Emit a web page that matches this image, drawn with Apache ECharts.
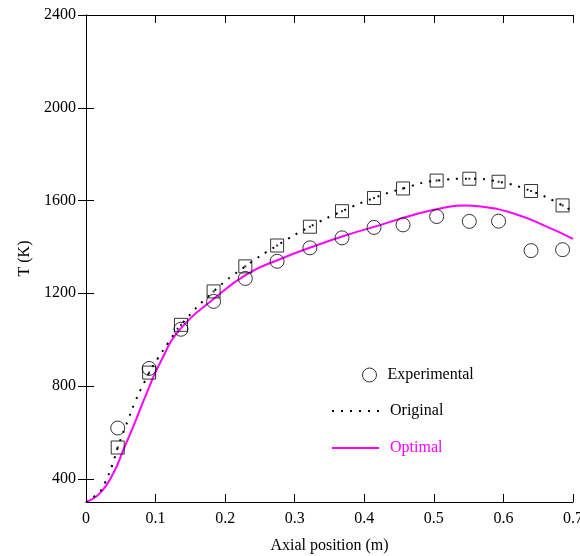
<!DOCTYPE html>
<html>
<head>
<meta charset="utf-8">
<script src="https://cdn.jsdelivr.net/npm/echarts@6/dist/echarts.min.js"></script>
<style>
  html, body { margin: 0; padding: 0; background: #fff; }
  #chart { width: 580px; height: 556px; }
</style>
</head>
<body>
<div id="chart"></div>
<script>
// 数据
const expX = [0.0456, 0.0908, 0.1365, 0.1834, 0.229, 0.2747, 0.3218, 0.368, 0.414, 0.4557, 0.504, 0.551, 0.593, 0.6397, 0.685];
const expT = [619, 876, 1045, 1165, 1264, 1338, 1396, 1439, 1484, 1495, 1531, 1510, 1511, 1384, 1388];

const origPtT = [535, 858, 1064, 1208, 1316, 1406, 1487, 1554, 1611, 1652, 1686, 1694, 1681, 1641, 1579];

const origLineX = [0, 0.02, 0.027, 0.038, 0.0456, 0.061, 0.071, 0.083, 0.0908, 0.103, 0.119, 0.1365, 0.1834, 0.229, 0.2747, 0.3218, 0.368, 0.414, 0.4557, 0.504, 0.551, 0.593, 0.6397, 0.685, 0.7];
const origLineT = [300, 345, 381, 461, 535, 658, 735, 811, 858, 918, 990, 1064, 1208, 1316, 1406, 1487, 1554, 1611, 1652, 1686, 1694, 1681, 1641, 1579, 1550];

const optX = [0, 0.0202, 0.0394, 0.0538, 0.068, 0.0874, 0.1066, 0.1354, 0.1834, 0.2315, 0.2795, 0.3275, 0.3756, 0.4236, 0.4716, 0.5197, 0.5437, 0.5677, 0.6157, 0.6638, 0.7];
const optT = [300, 338, 425, 526, 626, 771, 901, 1045, 1175, 1283, 1348, 1403, 1452, 1495, 1539, 1572, 1579, 1574, 1543, 1485, 1435];

const yTicks = [400, 800, 1200, 1600, 2000, 2400];

const zip = (xs, ys) => xs.map((x, i) => [x, ys[i]]);

const font = 'Liberation Serif';
const chart = echarts.init(document.getElementById('chart'));

const xBase = {
    type: 'value', min: 0, max: 0.7, interval: 0.1,
    axisLine: { show: true, lineStyle: { color: '#000', width: 1 } },
    axisTick: { show: true, inside: true, length: 8, lineStyle: { color: '#000' } },
    splitLine: { show: false }
};
const yBase = {
    type: 'value', min: 300, max: 2400,
    axisLine: { show: true, lineStyle: { color: '#000', width: 1 } },
    axisTick: { show: true, inside: true, length: 8, customValues: yTicks, lineStyle: { color: '#000' } },
    splitLine: { show: false }
};

const legendText = { fontFamily: font, fontSize: 16, color: '#000', padding: [0, 0, 0, 6] };

chart.setOption({
    animation: false,
    grid: { left: 86, right: 7, top: 15, bottom: 54, outerBoundsMode: 'none' },
    xAxis: [
        Object.assign({}, xBase, {
            position: 'bottom',
            name: 'Axial position (m)', nameLocation: 'middle', nameGap: 36,
            nameTextStyle: { fontFamily: font, fontSize: 16, color: '#000' },
            axisLabel: {
                fontFamily: font, fontSize: 16, color: '#000', margin: 9,
                formatter: v => String(Math.round(v * 10) / 10)
            }
        }),
        Object.assign({}, xBase, { position: 'top', axisLabel: { show: false } })
    ],
    yAxis: [
        Object.assign({}, yBase, {
            position: 'left',
            name: 'T (K)', nameLocation: 'middle', nameGap: 53,
            nameTextStyle: { fontFamily: font, fontSize: 16, color: '#000' },
            axisLabel: {
                fontFamily: font, fontSize: 16, color: '#000', margin: 10,
                customValues: yTicks, formatter: v => String(v)
            }
        }),
        Object.assign({}, yBase, { position: 'right', axisLabel: { show: false } })
    ],
    legend: [
        {
            orient: 'vertical', left: 357, top: 362,
            itemWidth: 14, itemHeight: 14,
            textStyle: legendText,
            data: [{ name: 'Experimental', itemStyle: { borderWidth: 1 } }]
        },
        {
            orient: 'vertical', left: 326, top: 398, itemGap: 21,
            itemWidth: 47, itemHeight: 16,
            textStyle: legendText,
            data: [
                { name: 'Original', itemStyle: { opacity: 0 } },
                { name: 'Optimal', itemStyle: { opacity: 0 }, textStyle: { color: '#ff00ff' } }
            ]
        }
    ],
    series: [
        {
            name: 'Optimal', type: 'line', smooth: true, symbol: 'none',
            data: zip(optX, optT),
            lineStyle: { color: '#ff00ff', width: 2 },
            itemStyle: { color: '#ff00ff' },
            z: 2
        },
        {
            name: 'Original', type: 'line', smooth: true, symbol: 'none',
            data: zip(origLineX, origLineT),
            lineStyle: { color: '#000', width: 2, type: [2, 7] },
            itemStyle: { color: '#000' },
            z: 3
        },
        {
            name: 'origPts', type: 'scatter', symbol: 'rect', symbolSize: 13,
            data: zip(expX, origPtT),
            itemStyle: { color: 'rgba(0,0,0,0)', borderColor: '#000', borderWidth: 1 },
            z: 4
        },
        {
            name: 'origDots', type: 'scatter', symbol: 'rect', symbolSize: 2,
            data: zip(expX, origPtT),
            itemStyle: { color: '#000' },
            z: 4
        },
        {
            name: 'Experimental', type: 'scatter', symbol: 'circle', symbolSize: 14,
            data: zip(expX, expT),
            itemStyle: { color: 'rgba(0,0,0,0)', borderColor: '#000', borderWidth: 1 },
            z: 5
        }
    ]
});
</script>
</body>
</html>
